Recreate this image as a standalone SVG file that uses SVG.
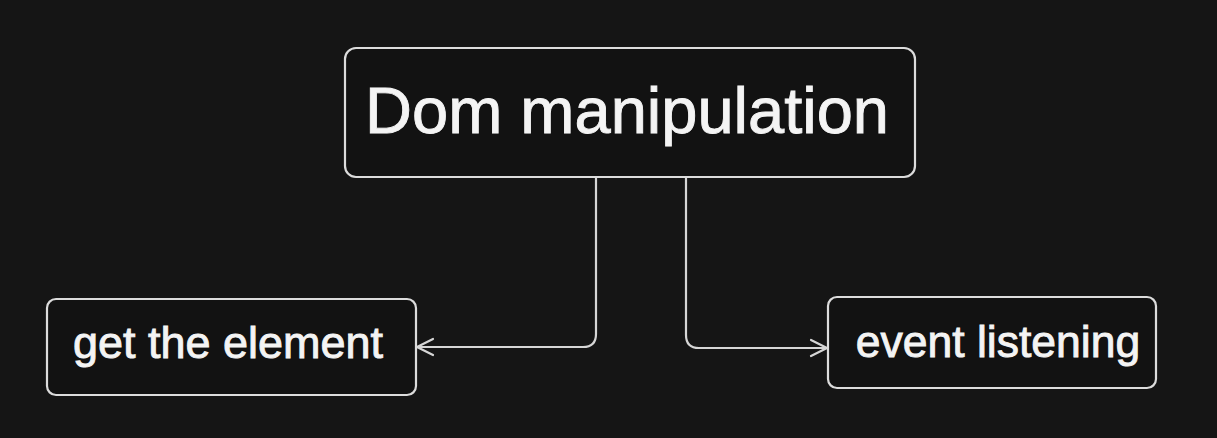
<svg xmlns="http://www.w3.org/2000/svg" width="1217" height="438" viewBox="0 0 1217 438">
<style>
.box{fill:#121212;stroke:#dcdcdc;stroke-width:2.2}
.lbl{fill:#f4f4f4;stroke:#f4f4f4;stroke-width:0.9;font-family:"Liberation Sans",Arial,sans-serif}
.conn{fill:none;stroke:#d6d6d6;stroke-width:2.2;stroke-linecap:round;stroke-linejoin:round}
</style>
<defs>
<marker id="arr" viewBox="0 0 20 20" refX="18" refY="10" markerWidth="20" markerHeight="20" markerUnits="userSpaceOnUse" orient="auto">
<path d="M2,2 L18,10 L2,18" fill="none" stroke="#d6d6d6" stroke-width="2.2" stroke-linecap="round" stroke-linejoin="round"/>
</marker>
</defs>
<rect width="1217" height="438" fill="#151515"/>
<g id="connectors">
<path class="conn" d="M596,178 V334 Q596,347 583,347 H417" marker-end="url(#arr)"/>
<path class="conn" d="M686,178 V335 Q686,348 699,348 H827" marker-end="url(#arr)"/>
</g>
<g id="dom">
<rect class="box" x="345" y="48" width="570" height="129" rx="11"/>
<text class="lbl" x="627" y="133" font-size="65" text-anchor="middle">Dom manipulation</text>
</g>
<g id="get">
<rect class="box" x="47" y="299" width="369" height="96" rx="9"/>
<text class="lbl" x="228" y="358" font-size="45" text-anchor="middle">get the element</text>
</g>
<g id="event">
<rect class="box" x="828" y="297" width="328" height="91" rx="9"/>
<text class="lbl" x="998" y="357" font-size="44.5" text-anchor="middle">event listening</text>
</g>
</svg>
